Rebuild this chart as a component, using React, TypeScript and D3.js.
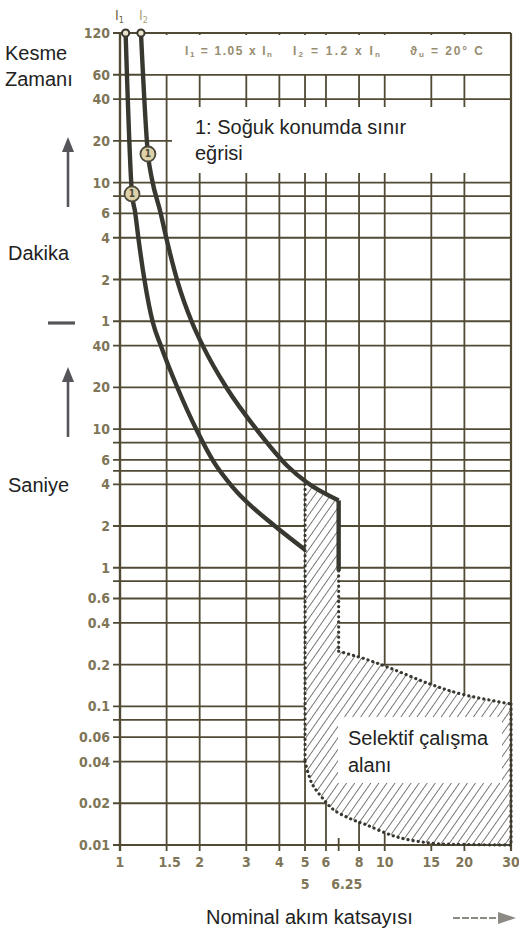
import * as d3 from "d3";

const W = 519;
const H = 933;

// x: multiples of nominal current
const xGridValues = [1, 1.5, 2, 3, 4, 5, 6, 8, 10, 15, 20, 30];
const xTickLabels = ["1", "1.5", "2", "3", "4", "5", "6", "8", "10", "15", "20", "30"];
const xSubValues = [5, 6.7];
const xSubLabels = ["5", "6.25"];

// y: trip time in seconds (minutes converted)
const yGridSeconds = [
  7200, 3600, 2400, 1200, 600, 480, 360, 240, 120, 60, 40, 20, 10, 8, 6, 5, 4, 2, 1,
  0.8, 0.6, 0.4, 0.2, 0.1, 0.08, 0.06, 0.04, 0.02, 0.01,
];
const yMinuteLabels = [120, 60, 40, 20, 10, 6, 4, 2, 1];
const ySecondLabels = [40, 20, 10, 6, 4, 2, 1, 0.6, 0.4, 0.2, 0.1, 0.06, 0.04, 0.02, 0.01];

// limit curves [multiple, seconds]
const curveI1: [number, number][] = [
  [1.05, 7200], [1.11, 497], [1.14, 370], [1.175, 234], [1.24, 116], [1.33, 59],
  [1.43, 39.5], [1.65, 19.8], [1.95, 9.8], [2.26, 5.8], [2.67, 3.8], [3.91, 1.95], [5.0, 1.35],
];
const curveI2: [number, number][] = [
  [1.2, 7200], [1.275, 965], [1.32, 637], [1.42, 370], [1.5, 234], [1.65, 116], [1.87, 59],
  [2.06, 39.5], [2.53, 19.8], [3.3, 9.8], [4.3, 5.4], [5.1, 4.1], [6.7, 3.06],
];
const curveI2Drop: [number, number][] = [[6.7, 3.06], [6.7, 0.95]];
const markers: [number, number][] = [[1.11, 497], [1.275, 965]];
const startPoints: [number, number][] = [[1.05, 7200], [1.2, 7200]];

// selective zone boundaries
const selLeft: [number, number][] = [[5, 4.0], [5, 0.04]];
const selBottom: [number, number][] = [
  [5, 0.04], [5.3, 0.028], [5.8, 0.022], [6.4, 0.018], [7.4, 0.0155], [8.5, 0.014],
  [11, 0.0115], [15, 0.0103], [20, 0.0101], [30, 0.01],
];
const selRightDrop: [number, number][] = [[6.7, 0.95], [6.7, 0.25]];
const selRight: [number, number][] = [
  [6.7, 0.25], [7.5, 0.235], [8.3, 0.222], [10.4, 0.19], [14.8, 0.145], [19.7, 0.122], [30, 0.104],
];
const selEdge: [number, number][] = [[30, 0.104], [30, 0.01]];

export default function App() {
  const x = d3.scaleLog().domain([1, 30]).range([120, 511]);
  const y = d3.scaleLog().domain([0.01, 7200]).range([845, 33]);

  const smooth = d3
    .line<[number, number]>()
    .x((d) => x(d[0]))
    .y((d) => y(d[1]))
    .curve(d3.curveCatmullRom.alpha(0.5));
  const mono = d3
    .line<[number, number]>()
    .x((d) => x(d[0]))
    .y((d) => y(d[1]))
    .curve(d3.curveMonotoneX);
  const straight = d3
    .line<[number, number]>()
    .x((d) => x(d[0]))
    .y((d) => y(d[1]));

  const hatchPath =
    straight([[5, 4.1], [6.7, 3.06], [6.7, 0.25]]) +
    (smooth(selRight) || "").replace(/^M/, "L") +
    `L${x(30)},${y(0.01)}` +
    (smooth(selBottom.slice().reverse()) || "").replace(/^M/, "L") +
    "Z";

  const grid = "#514a34";
  const tickFont = "'DejaVu Sans Condensed', 'DejaVu Sans', sans-serif";
  const tickColor = "#7f7557";
  const labelFont = "'Liberation Sans', Arial, sans-serif";
  const ink = "#383730";

  return (
    <svg width={W} height={H} style={{ position: "absolute", left: 0, top: 0, background: "#fff" }}>
      <defs>
        <pattern id="hatch" width={6.6} height={6.6} patternUnits="userSpaceOnUse" patternTransform="rotate(35)">
          <line x1={0} y1={0} x2={0} y2={6.6} stroke="#34332c" strokeWidth={1.3} />
        </pattern>
      </defs>

      {/* grid */}
      {yGridSeconds.map((s) => (
        <line key={"h" + s} x1={113} x2={x(30)} y1={y(s)} y2={y(s)} stroke={grid} strokeWidth={1.8} />
      ))}
      {xGridValues.map((v) => (
        <line key={"v" + v} x1={x(v)} x2={x(v)} y1={y(7200)} y2={851} stroke={grid} strokeWidth={1.8} />
      ))}
      <line x1={x(6.7)} x2={x(6.7)} y1={838} y2={851} stroke={grid} strokeWidth={1.8} />

      {/* selective zone hatch */}
      <path d={hatchPath} fill="#fff" />
      <path d={hatchPath} fill="url(#hatch)" />

      {/* white label boxes */}
      <rect x={146} y={35} width={x(30) - 147} height={39} fill="#fff" />
      <rect x={172} y={107} width={x(30) - 173} height={66} fill="#fff" />
      <rect x={338} y={717} width={164} height={66} fill="#fff" />

      {/* frame */}
      <line x1={113} x2={x(30)} y1={y(7200)} y2={y(7200)} stroke={grid} strokeWidth={2.2} />
      <line x1={113} x2={x(30)} y1={y(0.01)} y2={y(0.01)} stroke={grid} strokeWidth={2.2} />
      <line x1={x(1)} x2={x(1)} y1={y(7200)} y2={851} stroke={grid} strokeWidth={2.4} />
      <line x1={x(30)} x2={x(30)} y1={y(7200)} y2={851} stroke={grid} strokeWidth={2.2} />

      {/* dotted selective boundaries */}
      {[selLeft, selRightDrop, selEdge].map((seg, i) => (
        <path key={"ds" + i} d={straight(seg) || ""} fill="none" stroke={ink} strokeWidth={3.2}
          strokeDasharray="0.1 5" strokeLinecap="round" />
      ))}
      {[selBottom, selRight].map((seg, i) => (
        <path key={"dc" + i} d={smooth(seg) || ""} fill="none" stroke={ink} strokeWidth={3.2}
          strokeDasharray="0.1 5" strokeLinecap="round" />
      ))}

      {/* limit curves */}
      <path d={mono(curveI1) || ""} fill="none" stroke={ink} strokeWidth={4.4} strokeLinejoin="round" />
      <path d={mono(curveI2) || ""} fill="none" stroke={ink} strokeWidth={4.4} strokeLinejoin="round" />
      <path d={straight(curveI2Drop) || ""} fill="none" stroke={ink} strokeWidth={4.4} />

      {startPoints.map((p, i) => (
        <circle key={"sp" + i} cx={x(p[0])} cy={y(p[1])} r={3.6} fill="#ece4cc" stroke={ink} strokeWidth={2} />
      ))}
      {markers.map((p, i) => (
        <g key={"mk" + i}>
          <circle cx={x(p[0])} cy={y(p[1])} r={7.5} fill="#dcd1a8" stroke="#4c4a3c" strokeWidth={1.8} />
          <text x={x(p[0])} y={y(p[1]) + 3.5} textAnchor="middle" fontSize={10} fontFamily={tickFont}
            fontWeight="bold" fill="#4c4a3c">1</text>
        </g>
      ))}

      {/* y tick labels */}
      {yMinuteLabels.map((m) => (
        <text key={"ym" + m} x={110} y={y(m * 60) + 5} textAnchor="end" fontSize={14} fontFamily={tickFont}
          fontWeight="bold" fill={tickColor}>{m}</text>
      ))}
      {ySecondLabels.map((s) => (
        <text key={"ys" + s} x={110} y={y(s) + 5} textAnchor="end" fontSize={14} fontFamily={tickFont}
          fontWeight="bold" fill={tickColor}>{String(s)}</text>
      ))}

      {/* x tick labels */}
      {xGridValues.map((v, i) => (
        <text key={"xt" + v} x={x(v) + (i === 1 ? 3 : 0)} y={867} textAnchor="middle" fontSize={14}
          fontFamily={tickFont} fontWeight="bold" fill={tickColor}>{xTickLabels[i]}</text>
      ))}
      {xSubValues.map((v, i) => (
        <text key={"xs" + v} x={x(v) + (i === 1 ? 8 : 0)} y={889} textAnchor="middle" fontSize={14}
          fontFamily={tickFont} fontWeight="bold" fill={tickColor}>{xSubLabels[i]}</text>
      ))}

      {/* I1 / I2 labels */}
      <text x={115} y={20} fontSize={14} fontFamily={tickFont} fill="#6e6240">
        I<tspan fontSize={9} dy={3}>1</tspan>
      </text>
      <text x={139} y={20} fontSize={14} fontFamily={tickFont} fill="#a7a273">
        I<tspan fontSize={9} dy={3}>2</tspan>
      </text>

      {/* header */}
      <g fontSize={12} fontFamily={labelFont} fontWeight="bold" fill="#978d70">
        <text x={185} y={55} textLength={87} lengthAdjust="spacing">
          I<tspan fontSize={8} dy={2}>1</tspan><tspan dy={-2}> = 1.05 x I</tspan><tspan fontSize={8} dy={2}>n</tspan>
        </text>
        <text x={293} y={55} textLength={87} lengthAdjust="spacing">
          I<tspan fontSize={8} dy={2}>2</tspan><tspan dy={-2}> = 1.2 x I</tspan><tspan fontSize={8} dy={2}>n</tspan>
        </text>
        <text x={410} y={55} textLength={73} lengthAdjust="spacing">
          ϑ<tspan fontSize={8} dy={2}>u</tspan><tspan dy={-2}> = 20° C</tspan>
        </text>
      </g>

      {/* annotations */}
      <g fontFamily={labelFont} fontSize={20} fill="#222">
        <text x={5} y={60}>Kesme</text>
        <text x={5} y={86}>Zamanı</text>
        <text x={8} y={260}>Dakika</text>
        <text x={8} y={492}>Saniye</text>
        <text x={195} y={134}>1: Soğuk konumda sınır</text>
        <text x={195} y={160}>eğrisi</text>
        <text x={348} y={745}>Selektif çalışma</text>
        <text x={348} y={772}>alanı</text>
        <text x={206} y={924}>Nominal akım katsayısı</text>
      </g>

      {/* arrows */}
      <g stroke="#55555a" fill="#55555a">
        <line x1={68} x2={68} y1={207} y2={148} strokeWidth={2.6} />
        <polygon points="62,152 74,152 68,137" stroke="none" />
        <line x1={68} x2={68} y1={437} y2={378} strokeWidth={2.6} />
        <polygon points="62,382 74,382 68,367" stroke="none" />
        <line x1={48} x2={75} y1={323} y2={323} strokeWidth={3.2} />
      </g>
      <g stroke="#8d8a84" fill="#8d8a84">
        <line x1={453} x2={499} y1={918} y2={918} strokeWidth={2} strokeDasharray="7 2" />
        <polygon points="498,912 516,918 498,924" stroke="none" />
      </g>
    </svg>
  );
}
